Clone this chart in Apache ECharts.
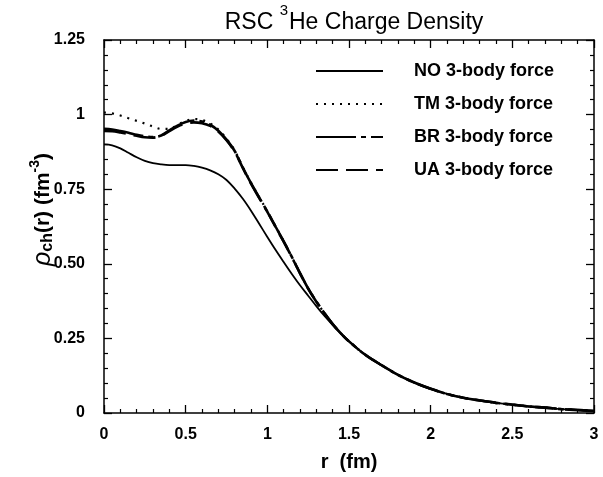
<!DOCTYPE html>
<html>
<head>
<meta charset="utf-8">
<script src="https://cdn.jsdelivr.net/npm/echarts@6/dist/echarts.min.js"></script>
<style>html,body{margin:0;padding:0;background:#fff}#c{width:603px;height:477px}</style>
</head>
<body>
<div id="c"></div>
<script>
// r grid (fm)
const rValues = [0,0.05,0.1,0.15,0.2,0.25,0.3,0.35,0.4,0.45,0.5,0.55,0.6,0.65,0.7,0.75,0.8,0.85,0.9,0.95,1.0,1.05,1.1,1.15,1.2,1.25,1.3,1.35,1.4,1.45,1.5,1.6,1.7,1.8,1.9,2.0,2.1,2.2,2.3,2.4,2.5,2.6,2.7,2.8,2.9,3.0];
const tailValues = [0.195,0.160,0.128,0.102,0.081,0.064,0.051,0.042,0.034,0.028,0.022,0.018,0.013,0.010,0.007];
const noValues = [0.900,0.897,0.887,0.872,0.857,0.845,0.837,0.833,0.831,0.831,0.831,0.828,0.822,0.813,0.800,0.781,0.752,0.718,0.678,0.634,0.590,0.547,0.506,0.466,0.428,0.393,0.358,0.325,0.295,0.266,0.240].concat(tailValues);
const tmValues = [1.007,1.004,0.997,0.988,0.979,0.970,0.960,0.952,0.952,0.966,0.979,0.985,0.982,0.970,0.950,0.919,0.880,0.824,0.772,0.724,0.676,0.626,0.576,0.523,0.469,0.418,0.374,0.334,0.298,0.267,0.240].concat(tailValues);
const brValues = [0.952,0.950,0.945,0.939,0.932,0.927,0.925,0.930,0.947,0.963,0.975,0.980,0.977,0.966,0.946,0.916,0.878,0.822,0.770,0.722,0.675,0.625,0.575,0.523,0.469,0.417,0.374,0.334,0.298,0.267,0.240].concat(tailValues);
const uaValues = [0.945,0.944,0.940,0.935,0.929,0.924,0.923,0.929,0.945,0.960,0.970,0.974,0.971,0.962,0.943,0.914,0.876,0.821,0.769,0.721,0.674,0.624,0.574,0.522,0.468,0.417,0.373,0.334,0.298,0.267,0.240].concat(tailValues);
const seriesNames = ['NO 3-body force','TM 3-body force','BR 3-body force','UA 3-body force'];
const xTickLabels = {'0':'0','0.5':'0.5','1':'1','1.5':'1.5','2':'2','2.5':'2.5','3':'3'};
const yTickLabels = {'0':'0','0.25':'0.25','0.5':'0.50','0.75':'0.75','1':'1','1.25':'1.25'};

const pairs = vals => rValues.map((r,i)=>[r, vals[i]]);
const FONT = 'Liberation Sans';
const chart = echarts.init(document.getElementById('c'), null, {renderer:'canvas'});

const baseX = {type:'value',min:0,max:3,interval:0.5,
  axisLine:{show:true,onZero:false,lineStyle:{color:'#000',width:1.5}},
  axisTick:{show:true,inside:true,length:8,lineStyle:{color:'#000',width:1.3}},
  minorTick:{show:true,splitNumber:5,length:4,lineStyle:{color:'#000',width:1.2}},
  splitLine:{show:false}};
const baseY = {type:'value',min:0,max:1.25,interval:0.25,
  axisLine:{show:true,onZero:false,lineStyle:{color:'#000',width:1.5}},
  axisTick:{show:true,inside:true,length:8,lineStyle:{color:'#000',width:1.3}},
  minorTick:{show:true,splitNumber:5,length:4,lineStyle:{color:'#000',width:1.2}},
  splitLine:{show:false}};

const mk = (name, vals, width, type) => ({
  name, type:'line', data:pairs(vals), smooth:0.35, showSymbol:false, symbol:'none',
  lineStyle:{color:'#000', width, type}, itemStyle:{color:'#000'}, z:3
});

chart.setOption({
  animation:false,
  backgroundColor:'#fff',
  title:{
    text:'{a|RSC }{s|3}{a|He Charge Density}',
    left:349, top:-3, textAlign:'center',
    textStyle:{rich:{
      a:{fontFamily:FONT,fontSize:23,fontWeight:'normal',color:'#000',lineHeight:32,verticalAlign:'bottom'},
      s:{fontFamily:FONT,fontSize:15,fontWeight:'normal',color:'#000',lineHeight:32,verticalAlign:'top',padding:[1,1,0,0]}
    }}
  },
  legend:{
    show:true,
    data:seriesNames, orient:'vertical', left:315, top:62, padding:0,
    itemWidth:67, itemHeight:14, itemGap:15,
    itemStyle:{opacity:0},
    selectedMode:false,
    textStyle:{fontFamily:FONT,fontSize:18,fontWeight:'bold',color:'#000',padding:[0,0,0,26]}
  },
  grid:{left:104,right:9,top:40,bottom:63,containLabel:false},
  xAxis:[
    Object.assign({}, baseX, {position:'bottom',
      name:'r  (fm)', nameLocation:'middle', nameGap:39, nameMoveOverlap:false,
      nameTextStyle:{fontFamily:FONT,fontSize:20,fontWeight:'bold',color:'#000'},
      axisLabel:{show:true,margin:14,fontFamily:FONT,fontSize:16,fontWeight:'bold',color:'#000',
        formatter:v=>xTickLabels[String(v)] ?? ''}}),
    Object.assign({}, baseX, {position:'top', axisLabel:{show:false}})
  ],
  yAxis:[
    Object.assign({}, baseY, {position:'left',
      name:'{rho|ρ}{sub|ch}{n|(r) (fm}{sup|-3}{n|)}', nameLocation:'middle', nameGap:46, nameRotate:90, nameMoveOverlap:false,
      nameTextStyle:{padding:[0,0,0,34],rich:{
        rho:{fontFamily:FONT,fontSize:25,fontStyle:'italic',color:'#000',lineHeight:30,verticalAlign:'middle'},
        sub:{fontFamily:FONT,fontSize:16,fontWeight:'bold',color:'#000',lineHeight:30,verticalAlign:'bottom',padding:[0,0,2,0]},
        n:{fontFamily:FONT,fontSize:21,fontWeight:'bold',color:'#000',lineHeight:30,verticalAlign:'middle'},
        sup:{fontFamily:FONT,fontSize:14,fontWeight:'bold',color:'#000',lineHeight:30,verticalAlign:'top',padding:[0,0,0,0]}
      }},
      axisLabel:{show:true,margin:19,fontFamily:FONT,fontSize:16,fontWeight:'bold',color:'#000',
        formatter:v=>yTickLabels[String(v)] ?? ''}}),
    Object.assign({}, baseY, {position:'right', axisLabel:{show:false}})
  ],
  series:[
    mk(seriesNames[0], noValues, 1.8, 'solid'),
    mk(seriesNames[1], tmValues, 2.2, [2,6]),
    mk(seriesNames[2], brValues, 2.6, [40,5,5,5]),
    mk(seriesNames[3], uaValues, 2.6, [22,8])
  ]
});
</script>
</body>
</html>
